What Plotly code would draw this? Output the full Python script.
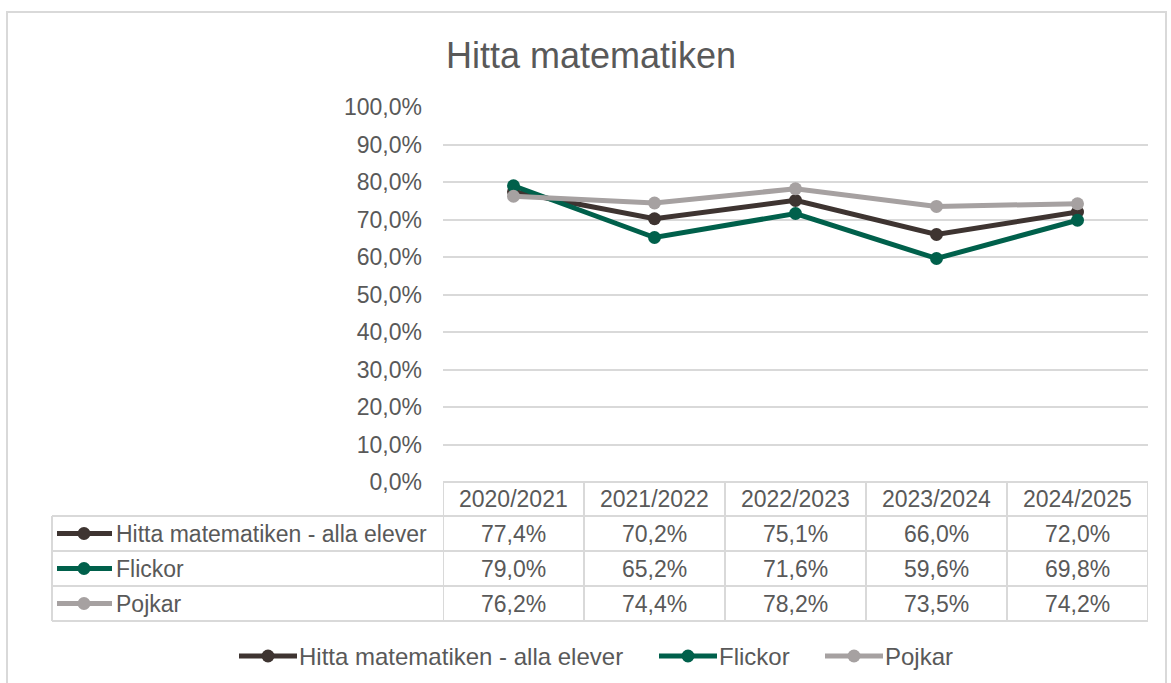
import plotly.graph_objects as go

# ---- data ----
years = ["2020/2021", "2021/2022", "2022/2023", "2023/2024", "2024/2025"]
series_names = ["Hitta matematiken - alla elever", "Flickor", "Pojkar"]
alla = [77.4, 70.2, 75.1, 66.0, 72.0]
flickor = [79.0, 65.2, 71.6, 59.6, 69.8]
pojkar = [76.2, 74.4, 78.2, 73.5, 74.2]
colors = ["#3E3431", "#00604B", "#A6A1A1"]
y_ticks = [0, 10, 20, 30, 40, 50, 60, 70, 80, 90, 100]
y_ticktext = ["0,0%", "10,0%", "20,0%", "30,0%", "40,0%", "50,0%",
              "60,0%", "70,0%", "80,0%", "90,0%", "100,0%"]

series = [alla, flickor, pojkar]

W, H = 1171, 683
L, R, T, B = 443, 1148, 107, 482  # plot area in pixels
FONT = "Liberation Sans, Arial, sans-serif"
TXT = "#595959"
GRID = "#D9D9D9"


def px(x):
    return (x - L) / (R - L)


def py(y):
    return (B - y) / (B - T)


def fmt(v):
    return f"{v:.1f}".replace(".", ",") + "%"


fig = go.Figure()
xs = list(range(len(years)))
for name, vals, col in zip(series_names, series, colors):
    fig.add_trace(go.Scatter(
        x=xs, y=vals, name=name, mode="lines+markers",
        line=dict(color=col, width=5),
        marker=dict(color=col, size=13),
        showlegend=False, hoverinfo="skip"))

shapes = []
annotations = []

# outer chart border
shapes.append(dict(type="rect", xref="paper", yref="paper",
                   x0=px(7), x1=px(1166), y0=py(700), y1=py(12),
                   line=dict(color=GRID, width=2), fillcolor="rgba(0,0,0,0)",
                   layer="below"))

# ---- data table ----
row_edges = [482, 516, 551, 586, 621]
tbl_left = 52
n = len(years)
for i in range(n + 1):
    shapes.append(dict(type="line", xref="x", yref="paper",
                       x0=i - 0.5, x1=i - 0.5, y0=py(row_edges[0]), y1=py(row_edges[-1]),
                       line=dict(color=GRID, width=2)))
shapes.append(dict(type="line", xref="paper", yref="paper",
                   x0=px(tbl_left), x1=px(tbl_left), y0=py(row_edges[1]), y1=py(row_edges[-1]),
                   line=dict(color=GRID, width=2)))
for k, yy in enumerate(row_edges):
    x0 = px(L) if k == 0 else px(tbl_left)
    shapes.append(dict(type="line", xref="paper", yref="paper",
                       x0=x0, x1=px(R), y0=py(yy), y1=py(yy),
                       line=dict(color=GRID, width=2)))

for i, yr in enumerate(years):
    annotations.append(dict(x=i, y=py((row_edges[0] + row_edges[1]) / 2), xref="x", yref="paper",
                            text=yr, showarrow=False, xanchor="center", yanchor="middle",
                            font=dict(family=FONT, size=23, color=TXT)))
for r, (name, vals, col) in enumerate(zip(series_names, series, colors)):
    yc = (row_edges[r + 1] + row_edges[r + 2]) / 2
    for i, v in enumerate(vals):
        annotations.append(dict(x=i, y=py(yc), xref="x", yref="paper",
                                text=fmt(v), showarrow=False, xanchor="center", yanchor="middle",
                                font=dict(family=FONT, size=23, color=TXT)))
    shapes.append(dict(type="line", xref="paper", yref="paper",
                       x0=px(57), x1=px(112), y0=py(yc), y1=py(yc),
                       line=dict(color=col, width=5)))
    rr = 6.5
    shapes.append(dict(type="circle", xref="paper", yref="paper",
                       x0=px(84 - rr), x1=px(84 + rr), y0=py(yc + rr), y1=py(yc - rr),
                       line=dict(color=col, width=0), fillcolor=col))
    annotations.append(dict(x=px(114), y=py(yc), xref="paper", yref="paper",
                            text=name, showarrow=False, xanchor="left", yanchor="middle",
                            font=dict(family=FONT, size=23, color=TXT)))

# ---- bottom legend ----
leg_y = 656
leg_starts = [239, 659, 825]
for name, col, x0 in zip(series_names, colors, leg_starts):
    shapes.append(dict(type="line", xref="paper", yref="paper",
                       x0=px(x0), x1=px(x0 + 58), y0=py(leg_y), y1=py(leg_y),
                       line=dict(color=col, width=5)))
    rr = 6.5
    xm = x0 + 29
    shapes.append(dict(type="circle", xref="paper", yref="paper",
                       x0=px(xm - rr), x1=px(xm + rr), y0=py(leg_y + rr), y1=py(leg_y - rr),
                       line=dict(color=col, width=0), fillcolor=col))
    annotations.append(dict(x=px(x0 + 58), y=py(leg_y), xref="paper", yref="paper",
                            text=name, showarrow=False, xanchor="left", yanchor="middle",
                            font=dict(family=FONT, size=24, color=TXT)))

fig.update_layout(
    width=W, height=H,
    margin=dict(l=L, r=W - R, t=T, b=H - B, pad=0),
    paper_bgcolor="white", plot_bgcolor="white",
    title=dict(text="Hitta matematiken", x=px(591), xref="paper", xanchor="center",
               y=1 - 55 / H, yref="container", yanchor="middle",
               font=dict(family=FONT, size=36, color=TXT)),
    xaxis=dict(range=[-0.5, n - 0.5], showticklabels=False, showgrid=False,
               zeroline=False, showline=False, ticks="", fixedrange=True),
    yaxis=dict(range=[0, 100], tickvals=y_ticks, ticktext=y_ticktext,
               showgrid=True, gridcolor=GRID, gridwidth=2, zeroline=False,
               showline=False, ticks="", ticklabelstandoff=20, fixedrange=True,
               tickfont=dict(family=FONT, size=23, color=TXT)),
    shapes=shapes, annotations=annotations, showlegend=False,
)

fig.write_html("out.html", config={"displayModeBar": False, "staticPlot": True},
               post_script="document.body.style.margin='0px';")
